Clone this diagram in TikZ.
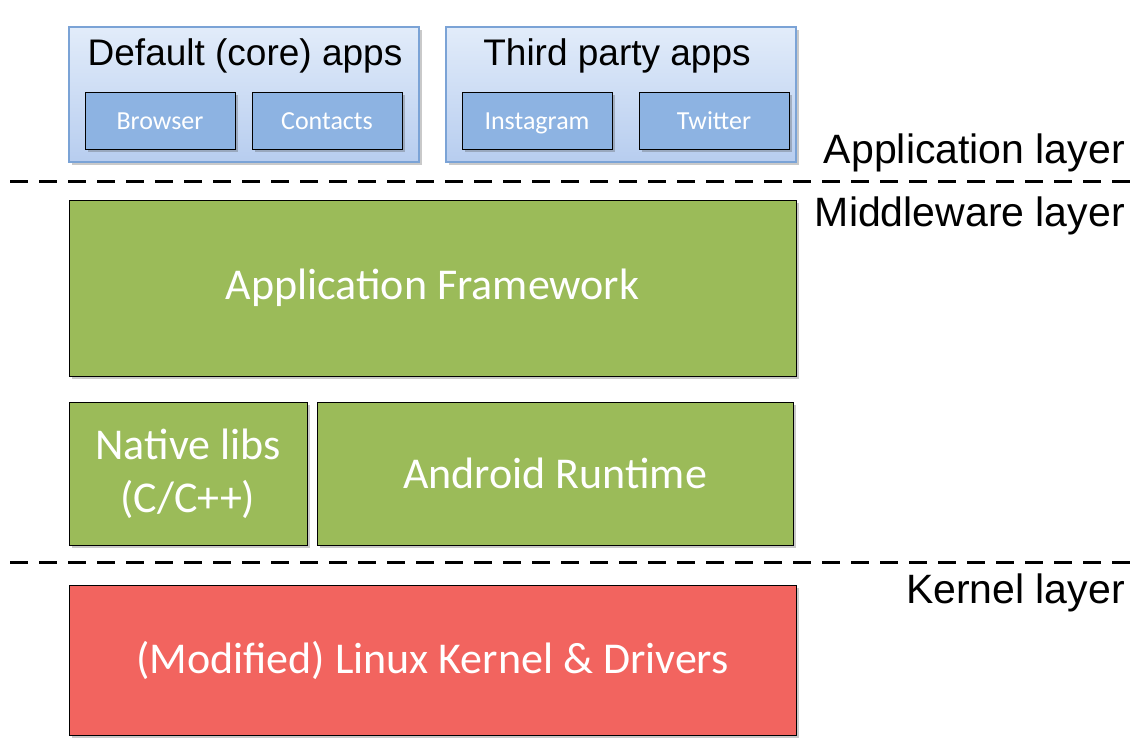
\documentclass[tikz,border=0pt]{standalone}
\usepackage{fontspec}
\setmainfont{Carlito}
\newfontfamily\arialfont{Liberation Sans}
\usetikzlibrary{shadows}
\definecolor{groupblue}{HTML}{7BA3D6}
\definecolor{grouptop}{HTML}{E2ECFA}
\definecolor{groupbot}{HTML}{B7CDEF}
\definecolor{appblue}{HTML}{8DB3E2}
\definecolor{midgreen}{HTML}{9BBB59}
\definecolor{kernred}{HTML}{F2645F}
\begin{document}
\begin{tikzpicture}[x=1pt, y=-1pt,
          shadowed/.style={drop shadow={shadow xshift=3pt, shadow yshift=-3pt, opacity=0.3, fill=black!70}},
          group/.style={rectangle, draw=groupblue, line width=1.2pt, top color=grouptop, bottom color=groupbot,
                        minimum width=350pt, minimum height=135pt, shadowed},
          app/.style={rectangle, draw=black, line width=1pt, fill=appblue, text=white,
                      minimum width=150pt, minimum height=57pt, text height=21pt, text depth=4pt,
                      font=\fontsize{26}{30}\selectfont, shadowed},
          layerbox/.style={rectangle, draw=black, line width=1pt, text=white, align=center,
                           font=\fontsize{44}{53}\selectfont, shadowed},
          title/.style={text height=20pt, text depth=6pt, font=\arialfont\fontsize{37}{42}\selectfont},
          layer/.style={anchor=east, inner sep=0pt, font=\arialfont\fontsize{41}{46}\selectfont},
          divider/.style={dash pattern=on 18pt off 11pt, line width=3pt}
        ]
        \useasboundingbox (0,0) rectangle (1145,753);

        % application layer
        \node[group] (core) at (244,94.5) {};
        \node[title] (coretitle) at (245,58) {Default (core) apps};
        \node[app] (browser) at (160,120.5) {Browser};
        \node[app] (contacts) at (327,120.5) {Contacts};

        \node[group] (third) at (621,94.5) {};
        \node[title] (thirdtitle) at (617,58) {Third party apps};
        \node[app] (instagram) at (537,120.5) {Instagram};
        \node[app] (twitter) at (714,120.5) {Twitter};

        \node[layer] (applayer) at (1125,153) {Application layer};

        \coordinate (topleft) at (10,181);
        \coordinate (topright) at (1130,181);
        \draw[divider] (topleft) -- (topright);

        % middleware layer
        \node[layer] (midlayer) at (1125,216) {Middleware layer};
        \node[layerbox, fill=midgreen, minimum width=727pt, minimum height=176pt] (framework) at (432.5,288) {Application Framework};
        \node[layerbox, fill=midgreen, minimum width=238pt, minimum height=143pt] (native) at (188,473.5) {Native libs\\(C/C++)};
        \node[layerbox, fill=midgreen, minimum width=476pt, minimum height=143pt] (runtime) at (555,473.5) {Android Runtime};

        \coordinate (lowleft) at (10,562);
        \coordinate (lowright) at (1130,562);
        \draw[divider] (lowleft) -- (lowright);

        % kernel layer
        \node[layer] (kernlayer) at (1125,593) {Kernel layer};
        \node[layerbox, fill=kernred, minimum width=727pt, minimum height=150pt] (kernel) at (432.5,660) {(Modified) Linux Kernel \& Drivers};

\end{tikzpicture}
\end{document}
